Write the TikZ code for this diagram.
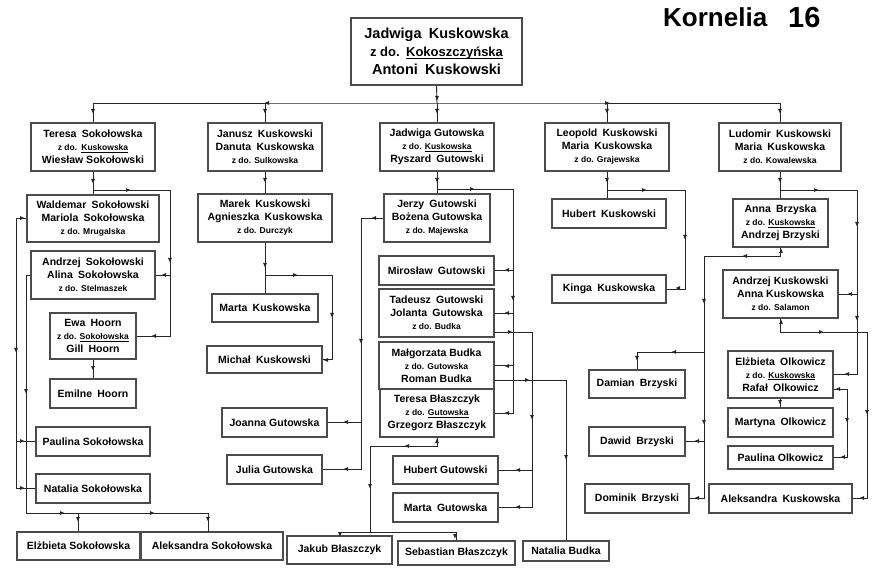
\documentclass[tikz,border=0pt]{standalone}
\usepackage{fontspec}
\setmainfont{Liberation Sans}
\newcommand\nf{\fontsize{10.5}{13}\selectfont\bfseries}
\newcommand\sm{\fontsize{8.5}{10}\selectfont}
\newcommand\dd{\hskip0.5em\relax}
\newcommand\ul[1]{\leavevmode\setbox0=\hbox{#1}\rlap{\rule[-1.6pt]{\wd0}{0.6pt}}\box0}
\tikzset{
 box/.style={draw=black!70, line width=1.4pt, fill=white, inner sep=0pt, align=center, font=\nf},
 conn/.style={draw=black!85, line width=0.9pt},
}
\newcommand\bx[6]{\node[box,minimum width={(#4-#2)*1pt},minimum height={(#5-#3)*1pt}] (#1) at ({(#2+#4)/2},{(#3+#5)/2}) {#6};}
\newcommand\ah[3]{\fill[black!85,shift={(#1,#2)},rotate=#3] (2.4pt,0pt) -- (-2pt,1.9pt) -- (-2pt,-1.9pt) -- cycle;}
\begin{document}
\begin{tikzpicture}[x=1pt,y=-1pt]
\useasboundingbox (0,0) rectangle (879,572);
\fill[white] (0,0) rectangle (879,572);
% title
\node[font=\fontsize{26}{26}\selectfont\bfseries, anchor=base west, inner sep=0pt] (title) at (663,27) {Kornelia};
\node[font=\fontsize{29}{29}\selectfont\bfseries, anchor=base west, inner sep=0pt] (num) at (788,28) {16};
% top
\node[box, font=\fontsize{14.5}{18}\selectfont\bfseries, minimum width=171pt, minimum height=67pt] (top) at (436.5,51.5) {Jadwiga\dd Kuskowska\\{\fontsize{13}{18}\selectfont z do.\dd\ul{Kokoszczyńska}}\\Antoni\dd Kuskowski};
% row 1
\bx{teresa}{31}{123}{155}{171}{Teresa\dd Sokołowska\\{\sm z do.\dd\ul{Kuskowska}}\\Wiesław Sokołowski}
\bx{janusz}{208}{123}{322}{171}{Janusz\dd Kuskowski\\Danuta\dd Kuskowska\\{\sm z do. Sulkowska}}
\bx{jadwiga}{380}{123}{494}{171}{Jadwiga Gutowska\\{\sm z do. \ul{Kuskowska}}\\Ryszard\dd Gutowski}
\bx{leopold}{545}{123}{669}{171}{Leopold\dd Kuskowski\\Maria\dd Kuskowska\\{\sm z do. Grajewska}}
\bx{ludomir}{719}{123}{841}{171}{Ludomir\dd Kuskowski\\Maria\dd Kuskowska\\{\sm z do. Kowalewska}}
% Teresa group
\bx{waldemar}{27}{195}{159}{242}{Waldemar\dd Sokołowski\\Mariola\dd Sokołowska\\{\sm z do. Mrugalska}}
\bx{andrzejS}{31}{251}{155}{299}{Andrzej\dd Sokołowski\\Alina\dd Sokołowska\\{\sm z do. Stelmaszek}}
\bx{ewa}{50}{313}{136}{359}{Ewa\dd Hoorn\\{\sm z do. \ul{Sokołowska}}\\Gill\dd Hoorn}
\bx{emilne}{50}{379}{136}{408}{Emilne\dd Hoorn}
\bx{paulinaS}{36}{427}{150}{456}{Paulina Sokołowska}
\bx{nataliaS}{36}{474}{150}{503}{Natalia Sokołowska}
\bx{elzbietaS}{17}{532}{140}{560}{Elżbieta Sokołowska}
\bx{aleksandraS}{141}{532}{283}{560}{Aleksandra Sokołowska}
% Janusz group
\bx{marek}{198}{194}{332}{242}{Marek\dd Kuskowski\\Agnieszka\dd Kuskowska\\{\sm z do. Durczyk}}
\bx{martaK}{212}{294}{318}{322}{Marta\dd Kuskowska}
\bx{michal}{207}{346}{322}{373}{Michał\dd Kuskowski}
% Jadwiga group
\bx{jerzy}{384}{194}{490}{242}{Jerzy\dd Gutowski\\Bożena Gutowska\\{\sm z do. Majewska}}
\bx{miroslaw}{379}{256}{494}{285}{Mirosław\dd Gutowski}
\bx{tadeusz}{379}{289}{494}{337}{Tadeusz\dd Gutowski\\Jolanta\dd Gutowska\\{\sm z do. Budka}}
\bx{malgorzata}{379}{342}{494}{389}{Małgorzata Budka\\{\sm z do. Gutowska}\\Roman Budka}
\bx{teresaB}{380}{389}{494}{437}{Teresa Błaszczyk\\{\sm z do. \ul{Gutowska}}\\Grzegorz Błaszczyk}
\bx{joanna}{222}{408}{327}{437}{Joanna Gutowska}
\bx{julia}{227}{455}{322}{484}{Julia Gutowska}
\bx{hubertG}{393}{456}{498}{484}{Hubert Gutowski}
\bx{martaG}{393}{493}{498}{522}{Marta\dd Gutowska}
\bx{jakub}{287}{536}{392}{564}{Jakub Błaszczyk}
\bx{sebastian}{398}{541}{515}{565}{Sebastian Błaszczyk}
\bx{nataliaB}{523}{541}{609}{561}{Natalia Budka}
% Leopold group
\bx{hubertK}{552}{199}{666}{228}{Hubert\dd Kuskowski}
\bx{kinga}{552}{275}{666}{303}{Kinga\dd Kuskowska}
% Ludomir group
\bx{annaB}{733}{199}{828}{247}{Anna\dd Brzyska\\{\sm z do. \ul{Kuskowska}}\\Andrzej Brzyski}
\bx{andrzejK}{723}{270}{838}{318}{Andrzej Kuskowski\\Anna Kuskowska\\{\sm z do. Salamon}}
\bx{elzbietaO}{728}{351}{833}{398}{Elżbieta\dd Olkowicz\\{\sm z do. \ul{Kuskowska}}\\Rafał\dd Olkowicz}
\bx{martyna}{728}{408}{833}{437}{Martyna\dd Olkowicz}
\bx{paulinaO}{728}{446}{833}{469}{Paulina Olkowicz}
\bx{aleksandraK}{709}{484}{852}{513}{Aleksandra\dd Kuskowska}
\bx{damian}{589}{370}{685}{398}{Damian\dd Brzyski}
\bx{dawid}{589}{427}{685}{456}{Dawid\dd Brzyski}
\bx{dominik}{585}{484}{689}{513}{Dominik\dd Brzyski}

% ---- connectors ----
\coordinate (bus0) at (437,103);
\draw[conn] (top.south) -- (bus0);
\draw[conn] (teresa.north) |- (bus0) -| (ludomir.north);
\foreach \n in {janusz,jadwiga,leopold} \draw[conn] (\n.north) -- (\n.north |- bus0);
% Teresa
\coordinate (tb) at (170,190);
\draw[conn] (teresa.south) -- (waldemar.north);
\draw[conn] (teresa.south |- tb) -- (tb) |- (ewa.east);
\draw[conn] (andrzejS.east) -- (andrzejS.east -| tb);
\coordinate (wl) at (16,218);
\draw[conn] (waldemar.west) -| (wl |- nataliaS.west) -- (nataliaS.west);
\draw[conn] (paulinaS.west) -- (paulinaS.west -| wl);
\coordinate (al) at (26,513);
\coordinate (as) at (208,532);
\draw[conn] (andrzejS.west) -| (al) -- (al -| as) -- (as);
\draw[conn] (elzbietaS.north) -- (elzbietaS.north |- al);
\draw[conn] (ewa.south) -- (emilne.north);
% Janusz
\draw[conn] (janusz.south) -- (marek.north);
\coordinate (mb) at (332,275);
\draw[conn] (marek.south) -- (marek.south |- martaK.north);
\draw[conn] (marek.south |- mb) -- (mb) |- (michal.east);
% Jadwiga
\draw[conn] (jadwiga.south) -- (jadwiga.south |- jerzy.north);
\coordinate (jb) at (513,189);
\draw[conn] (jadwiga.south |- jb) -- (jb) |- (teresaB.east);
\foreach \n in {miroslaw,tadeusz,malgorzata} \draw[conn] (\n.east) -- (\n.east -| jb);
\coordinate (jl) at (361,218);
\draw[conn] (jerzy.west) -| (jl |- julia.east) -- (julia.east);
\draw[conn] (joanna.east) -- (joanna.east -| jl);
\coordinate (tr) at (532,332);
\draw[conn] (tadeusz.east |- tr) -- (tr) |- (martaG.east);
\draw[conn] (hubertG.east) -- (hubertG.east -| tr);
\coordinate (mr) at (566,380);
\draw[conn] (malgorzata.east |- mr) -- (mr) -- (nataliaB.north);
\coordinate (tb1) at (437,446);
\coordinate (tb2) at (370,532);
\draw[conn] (teresaB.south) -- (tb1) -| (tb2);
\draw[conn] (jakub.north |- tb2) -- (sebastian.north |- tb2);
\draw[conn] (jakub.north) -- (jakub.north |- tb2);
\draw[conn] (sebastian.north) -- (sebastian.north |- tb2);
% Leopold
\draw[conn] (leopold.south) -- (leopold.south |- hubertK.north);
\coordinate (lb) at (685,190);
\draw[conn] (leopold.south |- lb) -- (lb) |- (kinga.east);
% Ludomir
\draw[conn] (ludomir.south) -- (ludomir.south |- annaB.north);
\coordinate (ub) at (857,190);
\draw[conn] (ludomir.south |- ub) -- (ub) |- (elzbietaO.east);
\draw[conn] (andrzejK.east) -- (andrzejK.east -| ub);
\coordinate (ab) at (704,256);
\draw[conn] (annaB.south) |- (ab) |- (dominik.east);
\draw[conn] (dawid.east) -- (dawid.east -| ab);
\coordinate (dm) at (704,352);
\draw[conn] (dm) -| (damian.north);
\coordinate (kb) at (867,332);
\draw[conn] (andrzejK.south) |- (kb) |- (aleksandraK.east);
\draw[conn] (elzbietaO.south) -- (martyna.north);
\coordinate (rr) at (847,389);
\draw[conn] (elzbietaO.east |- rr) -- (rr) |- (paulinaO.east);

% ---- arrowheads ----
\ah{437}{98}{-90}
\ah{267}{103}{180}
\ah{607}{103}{0}
\foreach \x in {93,265,437,607,780} {\ah{\x}{111}{-90}}
\ah{93}{181}{-90} \ah{128}{190}{0} \ah{170}{260}{-90} \ah{164}{275}{180} \ah{154}{336}{180}
\ah{22}{218}{0} \ah{22}{441}{0} \ah{22}{488}{0} \ah{16}{350}{-90}
\ah{26}{391}{-90} \ah{62}{513}{0} \ah{152}{513}{0} \ah{78}{519}{-90} \ah{208}{519}{-90}
\ah{93}{368}{-90}
\ah{265}{180}{-90}
\ah{265}{265}{-90} \ah{295}{275}{0} \ah{332}{315}{-90} \ah{326}{360}{180}
\ah{437}{180}{-90} \ah{472}{189}{0} \ah{513}{298}{-90} \ah{507}{270}{180} \ah{507}{313}{180} \ah{507}{366}{180} \ah{507}{413}{180}
\ah{374}{218}{180} \ah{361}{341}{-90} \ah{346}{422}{180} \ah{346}{469}{180}
\ah{510}{332}{0} \ah{532}{417}{-90} \ah{518}{470}{180} \ah{518}{507}{180}
\ah{527}{380}{0} \ah{566}{457}{-90}
\ah{437}{441}{90} \ah{407}{446}{180} \ah{370}{486}{-90} \ah{340}{534}{-90} \ah{455}{536}{-90}
\ah{607}{180}{-90} \ah{644}{190}{0} \ah{685}{237}{-90} \ah{678}{288}{180}
\ah{780}{180}{-90} \ah{816}{190}{0} \ah{857}{224}{-90} \ah{850}{294}{180} \ah{857}{318}{-90} \ah{847}{374}{180}
\ah{781}{251}{90} \ah{745}{256}{180} \ah{704}{301}{-90} \ah{674}{352}{180} \ah{637}{358}{-90} \ah{704}{422}{-90} \ah{697}{441}{180} \ah{697}{498}{180}
\ah{781}{322}{90} \ah{821}{332}{0} \ah{867}{412}{-90} \ah{862}{498}{180}
\ah{780}{402}{-90} \ah{838}{389}{180} \ah{847}{420}{-90} \ah{843}{457}{180}
\end{tikzpicture}
\end{document}
